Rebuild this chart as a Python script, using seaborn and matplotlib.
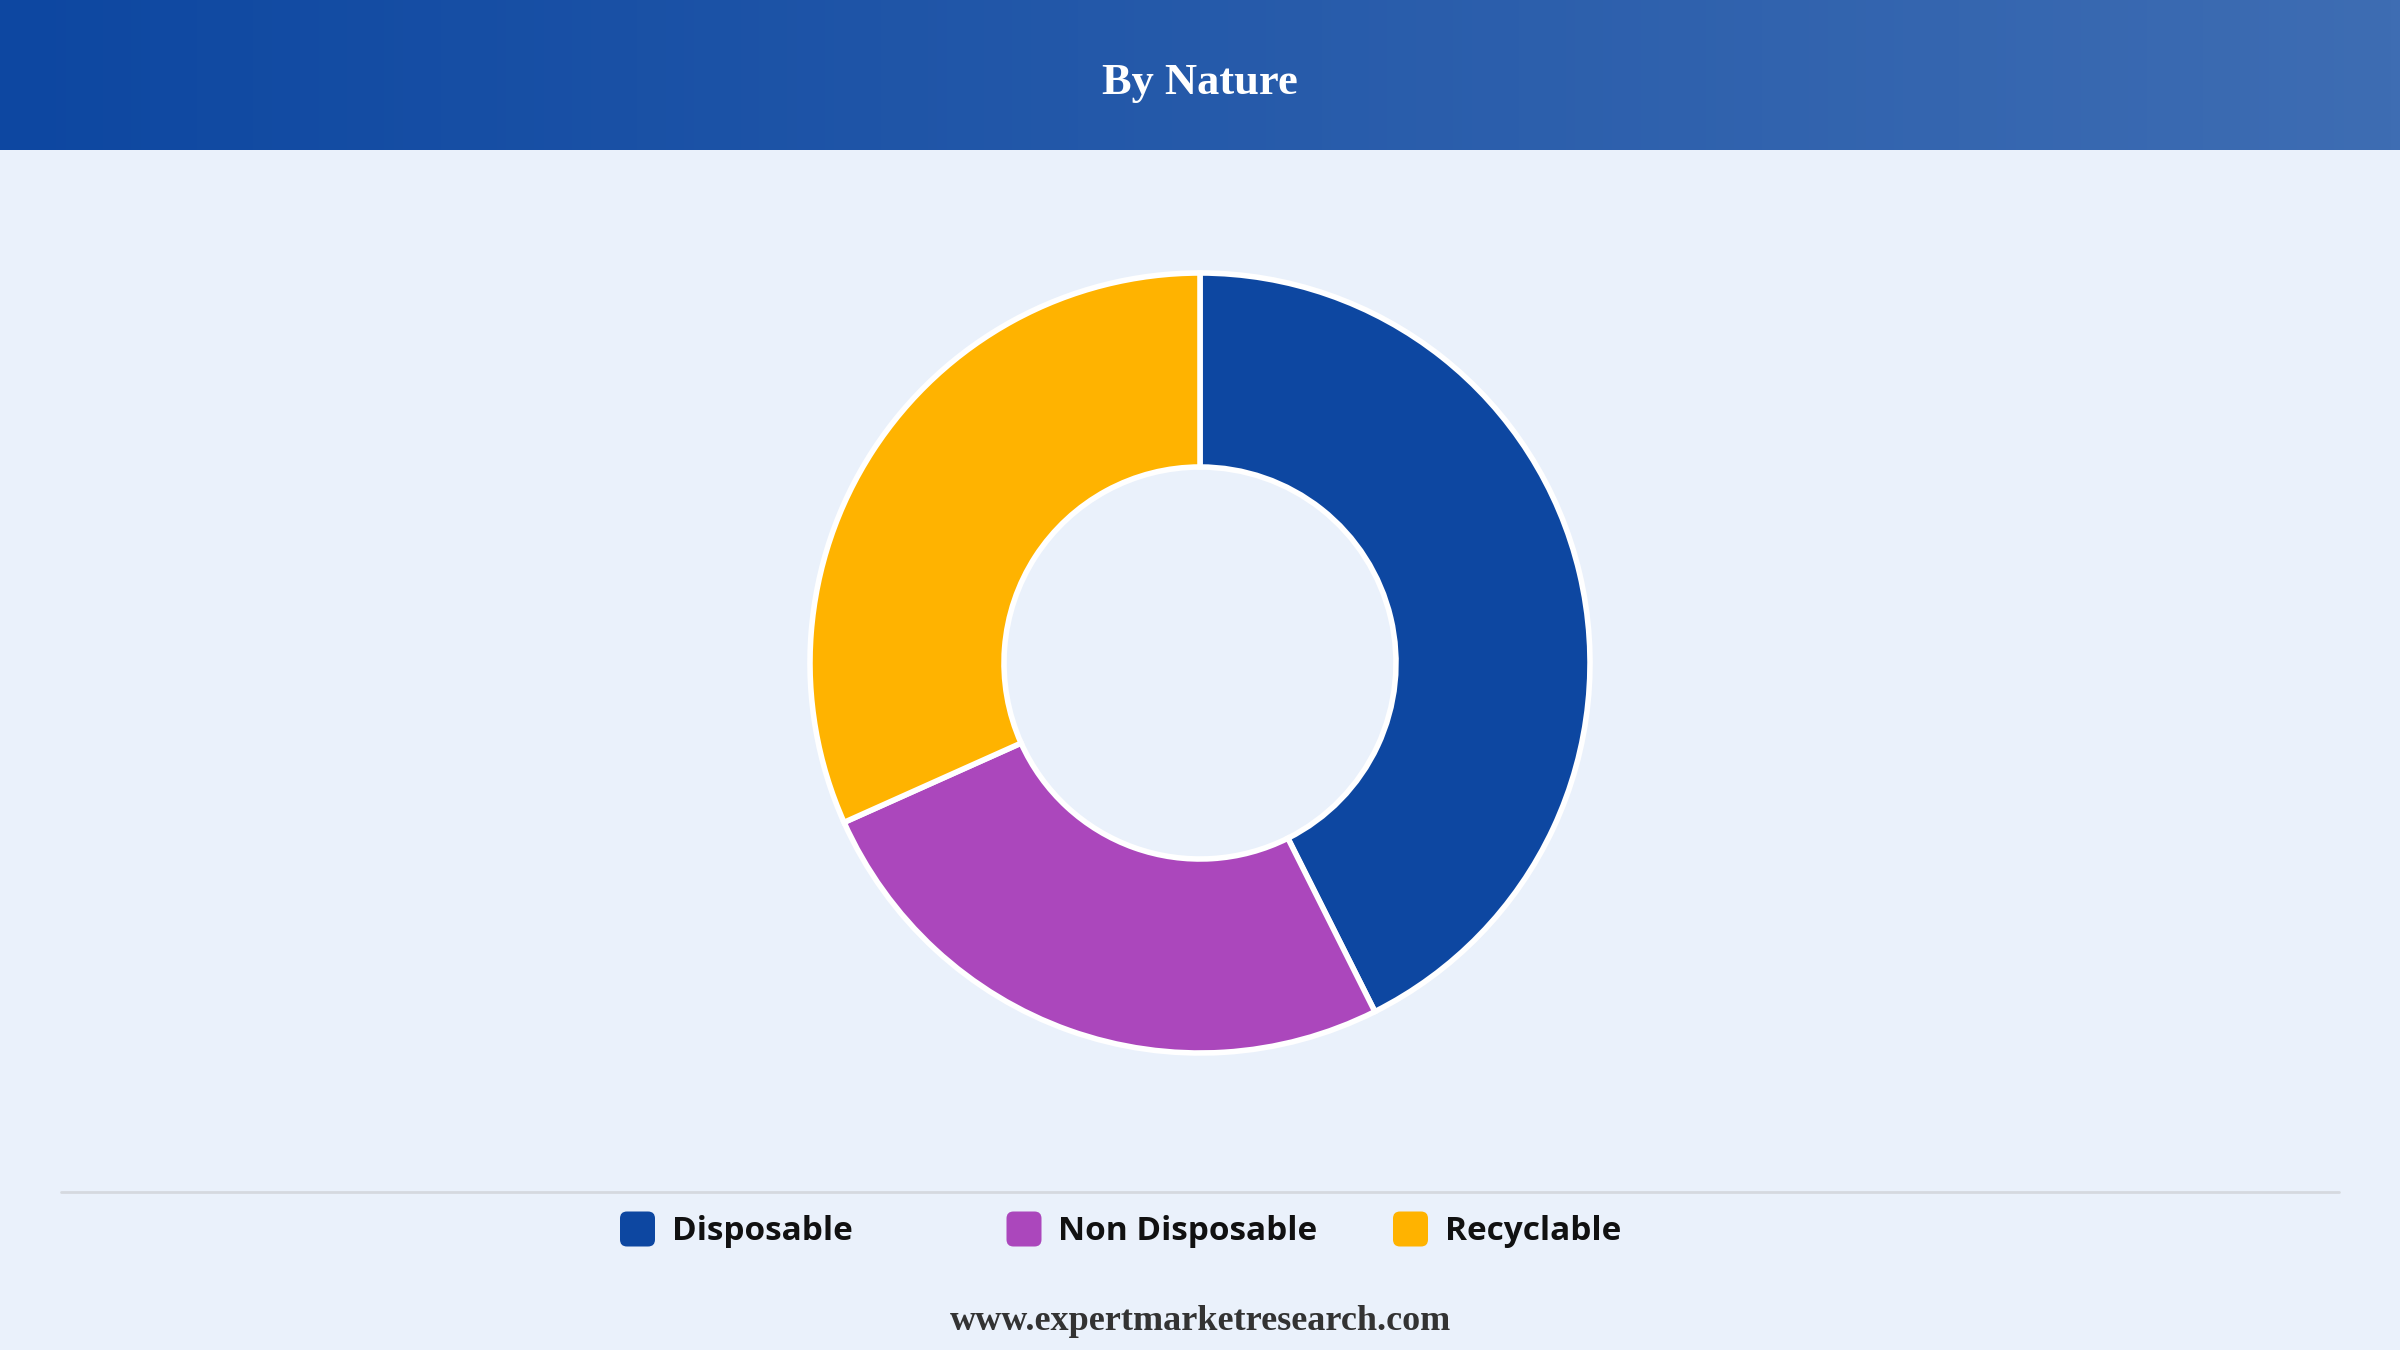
import numpy as np
import matplotlib
matplotlib.use("Agg")
import matplotlib.pyplot as plt
import seaborn as sns
from matplotlib.colors import LinearSegmentedColormap
from matplotlib.patches import FancyBboxPatch

# chart data
categories = ["Disposable", "Non Disposable", "Recyclable"]
shares = [42.6, 25.7, 31.7]
colors = ["#0d47a1", "#ab47bc", "#ffb300"]
title = "By Nature"
source = "www.expertmarketresearch.com"

sns.set_theme(style="white")
plt.rcParams["font.family"] = ["Open Sans", "DejaVu Sans"]

W, H = 2400, 1350
bg_color = "#eaf1fb"

fig = plt.figure(figsize=(24, 13.5), dpi=100)
fig.patch.set_facecolor(bg_color)

# full-figure axes in pixel units (y down)
bg = fig.add_axes([0, 0, 1, 1])
bg.set_xlim(0, W)
bg.set_ylim(H, 0)
bg.axis("off")
bg.set_facecolor(bg_color)

# header band with gradient
grad = LinearSegmentedColormap.from_list("hdr", ["#0d47a1", "#3e6db3"])
bg.imshow(np.linspace(0, 1, 256).reshape(1, -1), cmap=grad, aspect="auto",
          extent=[0, W, 150, 0], zorder=1)
bg.text(W / 2, 83, title, color="white", fontsize=32, fontweight="bold",
        family="Liberation Serif", ha="center", va="center", zorder=2)

# separator line
bg.plot([61, 2339], [1192, 1192], color="#d5d9df", lw=2, zorder=1)

# legend
x0, step, y_leg, box = 620, 386.5, 1229, 35
for i, (cat, col) in enumerate(zip(categories, colors)):
    x = x0 + i * step
    bg.add_patch(FancyBboxPatch((x, y_leg - box / 2), box, box,
                                boxstyle="round,pad=0,rounding_size=7",
                                fc=col, ec="none", zorder=2))
    bg.text(x + 52, y_leg + 3, cat, fontsize=24, fontweight="bold",
            color="#111111", ha="left", va="center", zorder=2)

# source text
bg.text(W / 2, 1321, source, fontsize=26, fontweight="bold",
        family="Liberation Serif", color="#333333", ha="center", va="center")

# donut
cx, cy, R, r = 1200, 663, 390, 196
half = 400
ax = fig.add_axes([(cx - half) / W, (H - cy - half) / H, 2 * half / W, 2 * half / H])
ax.pie(shares, colors=colors, radius=R / half, startangle=90, counterclock=False,
       wedgeprops=dict(width=(R - r) / half, edgecolor="white", linewidth=4))
ax.set_xlim(-1, 1)
ax.set_ylim(-1, 1)
ax.set_aspect("equal")
ax.axis("off")

fig.savefig("out.png", dpi=100, facecolor=bg_color)
